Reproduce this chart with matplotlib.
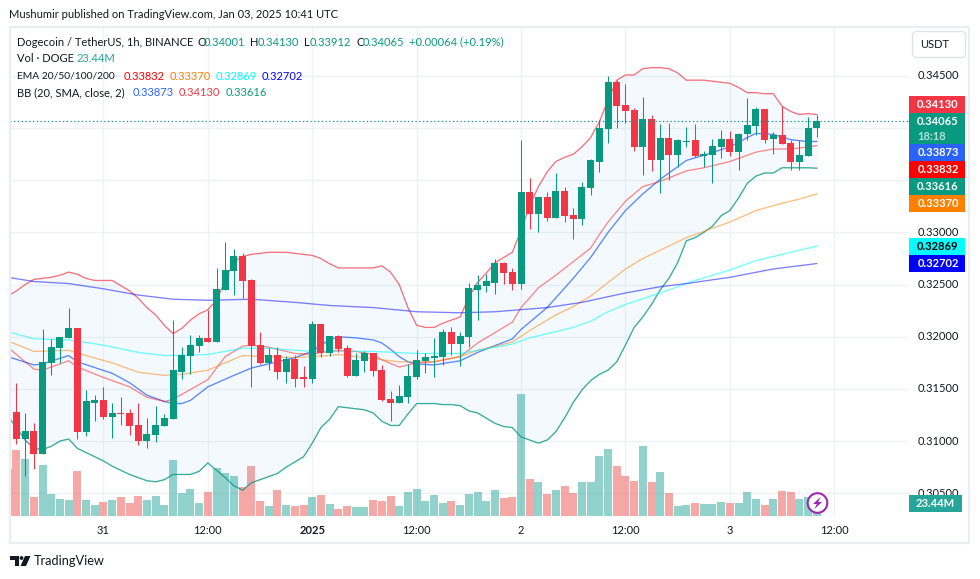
"""DOGE/USDT 1h candle chart with EMA and Bollinger overlays, TradingView look."""
import numpy as np
import matplotlib
matplotlib.use("Agg")
import matplotlib.pyplot as plt
from matplotlib.patches import Rectangle, FancyBboxPatch, Circle, Polygon

plt.rcParams["font.family"] = ["Lato", "DejaVu Sans"]

# ---- candles: bar number in hours, 0 is Jan 2 00:00 ----
bars = np.arange(-59, 35)
opens = [.3209, .3128, .3102, .3110, .3088, .3175, .3189, .3199, .3208, .3109, .3137, .3139, .3123, .3127, .3127,
         .3115, .3100, .3106, .3114, .3121, .3166, .3182, .3191, .3199, .3195, .3245, .3263, .3277, .3254, .3192,
         .3175, .3183, .3166, .3179, .3161, .3160, .3212, .3184, .3201, .3189, .3162, .3177, .3184, .3168, .3140,
         .3137, .3142, .3161, .3177, .3180, .3181, .3205, .3193, .3200, .3245, .3249, .3252, .3271, .3262, .3251,
         .3339, .3318, .3334, .3314, .3340, .3317, .3313, .3343, .3368, .3399, .3444, .3422, .3417, .3382, .3409,
         .3369, .3391, .3374, .3387, .3389, .3373, .3374, .3382, .3390, .3377, .3394, .3402, .3418, .3390, .3393,
         .3386, .3368, .3373, .34001]
highs = [.3209, .3156, .3127, .3117, .3207, .3198, .3200, .3228, .3208, .3149, .3144, .3152, .3137, .3142, .3131,
         .3137, .3122, .3134, .3126, .3216, .3190, .3202, .3202, .3226, .3266, .3291, .3284, .3280, .3255, .3205,
         .3189, .3190, .3182, .3183, .3172, .3215, .3212, .3201, .3202, .3192, .3184, .3186, .3184, .3173, .3148,
         .3154, .3174, .3187, .3184, .3199, .3207, .3209, .3205, .3252, .3259, .3260, .3275, .3272, .3266, .3389,
         .3352, .3334, .3339, .3357, .3344, .3323, .3348, .3370, .3408, .3450, .3446, .3442, .3419, .3430, .3413,
         .3404, .3405, .3390, .3401, .3404, .3378, .3390, .3398, .3397, .3395, .3429, .3420, .3418, .3396, .3421,
         .3389, .3389, .3411, .34130]
lows = [.3127, .3097, .3067, .3073, .3088, .3163, .3175, .3199, .3102, .3105, .3119, .3121, .3103, .3115, .3106,
        .3096, .3093, .3099, .3114, .3121, .3160, .3164, .3185, .3195, .3195, .3245, .3240, .3237, .3152, .3174,
        .3168, .3160, .3156, .3152, .3152, .3156, .3181, .3182, .3185, .3161, .3162, .3166, .3162, .3138, .3119,
        .3137, .3137, .3160, .3165, .3161, .3173, .3183, .3172, .3190, .3216, .3243, .3241, .3251, .3245, .3246,
        .3303, .3300, .3311, .3314, .3310, .3294, .3307, .3336, .3358, .3386, .3400, .3405, .3378, .3355, .3359,
        .3338, .3350, .3363, .3382, .3372, .3363, .3347, .3371, .3373, .3360, .3389, .3393, .3386, .3375, .3385,
        .3360, .3360, .3373, .33912]
closes = [.3127, .3102, .3110, .3088, .3176, .3190, .3200, .3208, .3109, .3138, .3139, .3123, .3127, .3126, .3114,
          .3100, .3107, .3115, .3122, .3168, .3183, .3192, .3199, .3195, .3246, .3264, .3277, .3253, .3191, .3175,
          .3183, .3166, .3179, .3160, .3160, .3212, .3184, .3201, .3188, .3162, .3178, .3184, .3167, .3139, .3137,
          .3143, .3162, .3178, .3181, .3182, .3205, .3193, .3201, .3247, .3250, .3253, .3271, .3261, .3251, .3339,
          .3318, .3334, .3314, .3340, .3316, .3313, .3344, .3369, .3400, .3444, .3421, .3416, .3382, .3409, .3369,
          .3391, .3374, .3389, .3388, .3373, .3375, .3383, .3390, .3377, .3394, .3403, .3418, .3389, .3393, .3385,
          .3368, .3374, .3400, .34065]
volumes = [85, 119, 103, 34, 92, 40, 31, 29, 81, 29, 20, 25, 29, 34, 23, 36, 29, 36, 20, 101, 41, 49, 23, 43, 86,
           77, 72, 52, 90, 27, 18, 47, 20, 18, 20, 34, 38, 22, 13, 18, 16, 16, 29, 27, 36, 18, 43, 49, 27, 38, 23,
           27, 20, 40, 43, 27, 47, 32, 34, 220, 67, 61, 40, 47, 54, 41, 61, 61, 108, 121, 90, 72, 63, 126, 61, 79,
           41, 18, 20, 23, 22, 22, 25, 23, 23, 43, 31, 20, 31, 45, 43, 31, 34, 23.44]

# ---- Bollinger bands, read bar by bar ----
bb_upper = [.3239, .3244, .3250, .3255, .3256, .3257, .3259, .3262, .3260, .3256, .3254, .3254, .3254, .3249, .3244,
            .3237, .3228, .3221, .3211, .3203, .3208, .3216, .3222, .3226, .3235, .3254, .3272, .3277, .3279, .3280,
            .3281, .3281, .3281, .3280, .3279, .3278, .3275, .3270, .3266, .3266, .3266, .3266, .3266, .3268, .3262,
            .3250, .3228, .3211, .3209, .3209, .3213, .3216, .3219, .3238, .3252, .3261, .3271, .3276, .3281, .3302,
            .3326, .3344, .3358, .3368, .3372, .3375, .3382, .3391, .3406, .3427, .3446, .3451, .3451, .3457, .3458,
            .3458, .3457, .3453, .3446, .3446, .3446, .3445, .3444, .3443, .3439, .3434, .3434, .3433, .3433, .3421,
            .3416, .3413, .3414, .34130]
bb_lower = [.3124, .3113, .3101, .3093, .3092, .3095, .3100, .3102, .3093, .3089, .3085, .3081, .3076, .3072, .3068,
            .3065, .3062, .3061, .3063, .3068, .3068, .3068, .3071, .3079, .3072, .3065, .3057, .3053, .3060, .3063,
            .3066, .3069, .3075, .3080, .3085, .3098, .3113, .3121, .3133, .3132, .3131, .3130, .3127, .3119, .3115,
            .3115, .3126, .3136, .3136, .3136, .3135, .3135, .3134, .3129, .3127, .3122, .3117, .3114, .3113, .3104,
            .3101, .3098, .3101, .3109, .3122, .3137, .3149, .3158, .3164, .3168, .3176, .3192, .3209, .3219, .3231,
            .3245, .3256, .3271, .3292, .3295, .3300, .3306, .3316, .3321, .3333, .3347, .3354, .3357, .3357, .3362,
            .3362, .3362, .3362, .33616]
bb_basis_bars = [-59, -56, -55, -52, -51, -47, -45, -43, -41, -40, -39, -38, -36, -33, -31, -29, -26, -24, -23, -22,
                 -21, -19, -17, -16, -15, -14, -13, -12, -10, -7, -5, -1, 0, 3, 6, 7, 8, 9, 10, 12, 14, 16, 19, 21,
                 24, 26, 27, 29, 31, 33, 34]
bb_basis = [.3181, .3173, .3174, .3182, .3176, .3165, .3156, .3144, .3138, .3136, .3136, .3139, .3152, .3163, .3170,
            .3174, .3180, .3186, .3192, .3197, .3200, .3199, .3197, .3194, .3188, .3181, .3176, .3174, .3173, .3177,
            .3185, .3198, .3207, .3228, .3256, .3266, .3276, .3288, .3300, .3321, .3337, .3351, .3369, .3374, .3382,
            .3391, .3395, .3394, .3389, .3387, .33873]

# ---- EMAs, read at the bars where they bend ----
ema20_bars = [-59, -56, -55, -52, -51, -48, -45, -43, -41, -40, -36, -35, -34, -32, -31, -29, -26, -24, -23, -21, -19,
              -17, -16, -14, -12, -10, -7, -5, -1, 0, 2, 4, 6, 8, 9, 10, 12, 14, 16, 19, 21, 24, 27, 29, 31, 33, 34]
ema20 = [.3190, .3169, .3168, .3177, .3171, .3161, .3152, .3142, .3138, .3140, .3159, .3170, .3181, .3191, .3192,
         .3190, .3184, .3183, .3185, .3187, .3186, .3183, .3178, .3171, .3175, .3176, .3181, .3194, .3214, .3228,
         .3247, .3259, .3272, .3285, .3298, .3310, .3330, .3344, .3349, .3359, .3362, .3368, .3377, .3380, .3380,
         .3382, .33832]
ema50_bars = [-59, -56, -52, -50, -47, -44, -41, -39, -36, -34, -32, -29, -26, -22, -21, -17, -14, -12, -10, -7, -5,
              -1, 1, 4, 6, 8, 10, 12, 14, 16, 19, 24, 27, 30, 32, 34]
ema50 = [.3196, .3186, .3187, .3182, .3175, .3166, .3163, .3164, .3168, .3175, .3182, .3181, .3180, .3182, .3183,
         .3179, .3176, .3176, .3176, .3181, .3187, .3195, .3206, .3221, .3229, .3239, .3252, .3265, .3275, .3283,
         .3295, .3310, .3321, .3328, .3332, .33370]
ema100_bars = [-59, -56, -52, -48, -44, -41, -36, -32, -29, -24, -21, -17, -12, -7, -5, -1, 1, 4, 6, 8, 10, 12, 16,
               20, 24, 27, 30, 34]
ema100 = [.3205, .3198, .3197, .3192, .3185, .3182, .3183, .3189, .3189, .3186, .3186, .3186, .3184, .3184, .3187,
          .3193, .3199, .3205, .3209, .3215, .3224, .3231, .3242, .3254, .3264, .3273, .3279, .32869]
ema200_bars = [-59, -56, -52, -48, -44, -40, -36, -31, -26, -22, -17, -12, -7, -3, 0, 3, 7, 12, 16, 19, 24, 29, 34]
ema200 = [.3257, .3253, .3251, .3246, .3240, .3236, .3235, .3236, .3233, .3230, .3228, .3224, .3223, .3224, .3226,
          .3228, .3233, .3242, .3248, .3251, .3257, .3265, .32702]

# the reference's 0.34000 and 0.33500 labels are covered by price tags, only their grid lines show
grid_prices = [.345, .340, .335, .330, .325, .320, .315, .310, .305]
price_ticks = [.345, .330, .325, .320, .315, .310, .305]
price_labels = ["0.34500", "0.33000", "0.32500", "0.32000", "0.31500", "0.31000", "0.30500"]
time_ticks = [-48, -36, -24, -12, 0, 12, 24, 36]
time_labels = ["31", "12:00", "2025", "12:00", "2", "12:00", "3", "12:00"]

GREEN = "#089981"
RED = "#F23645"
GRID = "#EFF1F5"
INK = "#131722"
W, H = 980, 579
FS = 8.05

fig = plt.figure(figsize=(W / 100, H / 100), dpi=100, facecolor="white")
rect = [10 / W, 1 - 516 / H, 898 / W, 488 / H]
XLIM = (-58.74, 44.48)
YLIM = (.30282, .34960)

# grid sits under the volume bars, so it gets its own axes
gax = fig.add_axes(rect, zorder=1)
gax.set_xlim(XLIM)
gax.set_ylim(YLIM)
gax.set_xticks(time_ticks)
gax.set_yticks(grid_prices)
gax.grid(color=GRID, lw=1.0)
gax.tick_params(length=0, labelbottom=False, labelleft=False)
for sp in gax.spines.values():
    sp.set_visible(False)

vax = fig.add_axes(rect, zorder=2)
vax.patch.set_visible(False)
vax.axis("off")
vax.set_xlim(XLIM)
vax.set_ylim(0, 878)
vol_colors = ["#26A69A" if c >= o else "#EF5350" for o, c in zip(opens, closes)]
vax.bar(bars, volumes, width=0.92, color=vol_colors, alpha=0.5, lw=0)

ax = fig.add_axes(rect, zorder=3)
ax.patch.set_visible(False)
ax.axis("off")
ax.set_xlim(XLIM)
ax.set_ylim(YLIM)

# bands and moving averages, under the candles
LW = 0.95
ax.fill_between(bars, bb_lower, bb_upper, color="#2196F3", alpha=0.05, lw=0, zorder=1)
ax.plot(bars, bb_upper, color=RED, lw=LW, alpha=0.7, zorder=2)
ax.plot(bars, bb_lower, color=GREEN, lw=LW, alpha=0.8, zorder=2)
ax.plot(bb_basis_bars, bb_basis, color="#2962FF", lw=LW, alpha=0.75, zorder=2)
ax.plot(ema20_bars, ema20, color="#FF0000", lw=LW, alpha=0.45, zorder=2)
ax.plot(ema50_bars, ema50, color="#FF7F00", lw=LW, alpha=0.5, zorder=2)
ax.plot(ema100_bars, ema100, color="#00FFFF", lw=LW, alpha=0.55, zorder=2)
ax.plot(ema200_bars, ema200, color="#0000FF", lw=LW, alpha=0.5, zorder=2)

# candles
for b, o, hi, lo, c in zip(bars, opens, highs, lows, closes):
    col = GREEN if c >= o else RED
    ax.vlines(b, lo, hi, color=col, lw=0.75, zorder=3)
    ax.bar(b, abs(c - o), bottom=min(o, c), width=0.8, color=col, lw=0, zorder=4)
ax.axhline(closes[-1], color=GREEN, lw=0.9, ls=(0, (1, 2)), zorder=5)

# everything around the pane is placed in pixels on an overlay
ov = fig.add_axes([0, 0, 1, 1], zorder=10)
ov.set_xlim(0, W)
ov.set_ylim(H, 0)
ov.axis("off")
ov.patch.set_visible(False)

ov.add_patch(Rectangle((10, 27), 959, 516, fill=False, ec="#ECEDF3", lw=1.6))

y_of = lambda p: 516 - (p - YLIM[0]) / (YLIM[1] - YLIM[0]) * 488
for p, lab in zip(price_ticks, price_labels):
    ov.text(938, y_of(p), lab, ha="center", va="center", fontsize=FS, color=INK)
for t, lab in zip(time_ticks, time_labels):
    x = 10 + (t - XLIM[0]) / (XLIM[1] - XLIM[0]) * 898
    ov.text(x, 530, lab, ha="center", va="center", fontsize=FS, color=INK,
            fontweight="bold" if lab == "2025" else "normal")

# price tags on the right axis
tag_tops = [96, 144, 161, 178, 195, 238, 255]
tag_texts = ["0.34130", "0.33873", "0.33832", "0.33616", "0.33370", "0.32869", "0.32702"]
tag_colors = [RED, "#2962FF", "#FF0000", GREEN, "#FF7F00", "#00FFFF", "#0000FF"]
for top, s, col in zip(tag_tops, tag_texts, tag_colors):
    ov.add_patch(Rectangle((909, top), 56, 17, color=col, lw=0, zorder=3))
    ov.text(938, top + 8.5, s, ha="center", va="center", fontsize=FS, zorder=4,
            color="black" if col == "#00FFFF" else "white", fontweight="bold")
ov.add_patch(Rectangle((909, 113), 56, 31, color=GREEN, lw=0, zorder=3))
ov.text(938, 121.5, "0.34065", ha="center", va="center", fontsize=FS, color="white",
        fontweight="bold", zorder=4)
ov.text(917, 136, "18:18", ha="left", va="center", fontsize=FS, color="#B5E0D8", fontweight="bold", zorder=4)
ov.add_patch(Rectangle((909, 495), 53, 17, color="#26A69A", lw=0, zorder=3))
ov.text(935.5, 503.5, "23.44M", ha="center", va="center", fontsize=FS, color="white",
        fontweight="bold", zorder=4)

# USDT button
ov.add_patch(FancyBboxPatch((914, 33), 50, 23, boxstyle="round,pad=1.5,rounding_size=4",
                            fc="white", ec="#E0E3EB", lw=1))
ov.text(935, 44.5, "USDT", ha="center", va="center", fontsize=FS, color=INK)

# header and legend
ov.text(9, 15, "Mushumir published on TradingView.com, Jan 03, 2025 10:41 UTC",
        va="center", fontsize=FS, color=INK)
def leg(x, y, s, col=INK, fs=FS):
    ov.text(x, y, s, va="center", fontsize=fs, color=col)
leg(17, 42, "Dogecoin / TetherUS, 1h, BINANCE")
leg(197, 42, "O")
leg(204, 42, "0.34001", GREEN)
leg(250, 42, "H")
leg(258, 42, "0.34130", GREEN)
leg(304, 42, "L")
leg(310, 42, "0.33912", GREEN)
leg(356, 42, "C")
leg(363, 42, "0.34065", GREEN)
leg(409, 42, "+0.00064 (+0.19%)", GREEN)
leg(17, 59, "Vol · DOGE")
leg(77, 59, "23.44M", "#26A69A")
leg(17, 76, "EMA 20/50/100/200", fs=7.4)
leg(124, 76, "0.33832", "#FF0000")
leg(170, 76, "0.33370", "#FF7F00")
leg(216, 76, "0.32869", "#00FFFF")
leg(262, 76, "0.32702", "#0000FF")
leg(17, 93, "BB (20, SMA, close, 2)")
leg(133, 93, "0.33873", "#2962FF")
leg(179, 93, "0.34130", RED)
leg(226, 93, "0.33616", GREEN)

# bolt badge
ov.add_patch(Circle((817.5, 503), 9.8, fc="white", ec="#9C27B0", lw=1.5, zorder=5))
ov.add_patch(Polygon([(820.5, 497), (813, 504), (816.8, 504), (814.5, 509), (822, 502), (818.2, 502)],
                     fc="#9C27B0", ec="none", zorder=6))

# logo
ov.add_patch(Polygon([(10, 556), (19, 556), (19, 566), (14.5, 566), (14.5, 560), (10, 560)], fc=INK, ec="none"))
ov.add_patch(Circle((21.5, 558), 1.9, fc=INK, ec="none"))
ov.add_patch(Polygon([(25, 556), (30.5, 556), (26, 566), (20.5, 566)], fc=INK, ec="none"))
ov.text(34, 561, "TradingView", va="center", fontsize=9.2, color=INK)

fig.savefig("out.png", dpi=100)
